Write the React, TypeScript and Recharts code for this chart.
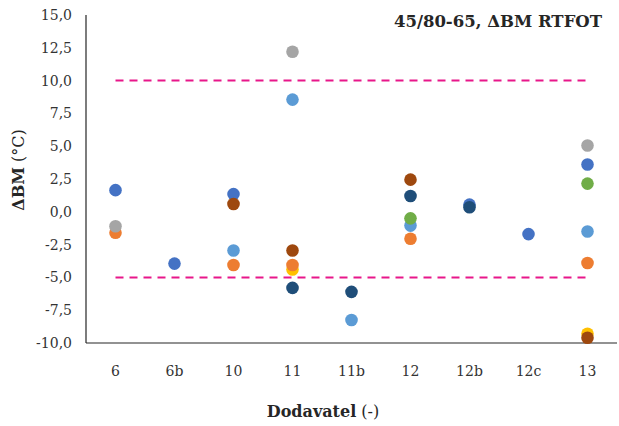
import { ComposedChart, Line, XAxis, YAxis } from "recharts";

// dodavatelé (kategorie na ose X)
const categories = ["6", "6b", "10", "11", "11b", "12", "12b", "12c", "13"];

// ΔBM po RTFOT, jednotlivé série (null = bez hodnoty)
const sBlue = [1.65, -3.95, 1.35, null, null, null, 0.55, -1.7, 3.6];
const sGold = [null, null, null, -4.4, null, null, null, null, -9.3];
const sOrange = [-1.6, null, -4.05, -4.05, null, -2.05, null, null, -3.9];
const sGray = [-1.1, null, null, 12.2, null, null, null, null, 5.05];
const sLightBlue = [null, null, -2.95, 8.55, -8.25, -1.05, null, null, -1.5];
const sGreen = [null, null, null, null, null, -0.5, null, null, 2.15];
const sDarkBlue = [null, null, null, -5.8, -6.1, 1.2, 0.35, null, null];
const sBrown = [null, null, 0.6, -2.95, null, 2.45, null, null, -9.6];

// meze
const upperLimit = 10;
const lowerLimit = -5;

const yTicks = [-10, -7.5, -5, -2.5, 0, 2.5, 5, 7.5, 10, 12.5, 15];

const series = [
  { key: "blue", values: sBlue, color: "#4472C4" },
  { key: "gold", values: sGold, color: "#FFC000" },
  { key: "orange", values: sOrange, color: "#ED7D31" },
  { key: "gray", values: sGray, color: "#A5A5A5" },
  { key: "lightBlue", values: sLightBlue, color: "#5B9BD5" },
  { key: "green", values: sGreen, color: "#70AD47" },
  { key: "darkBlue", values: sDarkBlue, color: "#1F4E79" },
  { key: "brown", values: sBrown, color: "#9E480E" },
];

const data = categories.map((name, i) => {
  const row: Record<string, string | number | null> = {
    name,
    upper: upperLimit,
    lower: lowerLimit,
  };
  series.forEach((s) => {
    row[s.key] = s.values[i];
  });
  return row;
});

const font = "'DejaVu Serif', serif";

export default function App() {
  return (
    <div
      style={{
        position: "absolute",
        left: 0,
        top: 0,
        width: 619,
        height: 426,
        background: "#fff",
        fontFamily: font,
      }}
    >
      <ComposedChart
        width={619}
        height={426}
        data={data}
        margin={{ top: 15, right: 2, bottom: 53, left: 0 }}
      >
        <XAxis
          dataKey="name"
          scale="band"
          height={30}
          tickLine={false}
          axisLine={{ stroke: "#262626", strokeWidth: 1.2 }}
          tick={{ fill: "#333", fontSize: 14, fontFamily: font }}
          dy={15}
        />
        <YAxis
          width={86}
          domain={[-10, 15]}
          ticks={yTicks}
          interval={0}
          tickLine={false}
          axisLine={{ stroke: "#262626", strokeWidth: 1.2 }}
          tick={{ fill: "#333", fontSize: 14, fontFamily: font }}
          tickFormatter={(v: number) => v.toFixed(1).replace(".", ",")}
          dx={-6}
        />
        <Line
          dataKey="upper"
          stroke="#E8178A"
          strokeWidth={2}
          strokeDasharray="8 6"
          dot={false}
          isAnimationActive={false}
        />
        <Line
          dataKey="lower"
          stroke="#E8178A"
          strokeWidth={2}
          strokeDasharray="8 6"
          dot={false}
          isAnimationActive={false}
        />
        {series.map((s) => (
          <Line
            key={s.key}
            dataKey={s.key}
            stroke="none"
            strokeWidth={0}
            dot={{ r: 6.3, fill: s.color, stroke: "none" }}
            activeDot={false}
            isAnimationActive={false}
          />
        ))}
      </ComposedChart>

      {/* titulek */}
      <div
        style={{
          position: "absolute",
          right: 17,
          top: 12,
          fontSize: 16.5,
          fontWeight: "bold",
          color: "#262626",
          whiteSpace: "nowrap",
        }}
      >
        45/80-65, ΔBM RTFOT
      </div>

      {/* popisek osy Y */}
      <div
        style={{
          position: "absolute",
          left: 18,
          top: 170,
          transform: "translate(-50%, -50%) rotate(-90deg)",
          fontSize: 16,
          color: "#262626",
          whiteSpace: "nowrap",
        }}
      >
        <b>ΔBM</b> (°C)
      </div>

      {/* popisek osy X */}
      <div
        style={{
          position: "absolute",
          left: 323,
          top: 411,
          transform: "translate(-50%, -50%)",
          fontSize: 16,
          color: "#262626",
          whiteSpace: "nowrap",
        }}
      >
        <b>Dodavatel</b> (-)
      </div>
    </div>
  );
}
